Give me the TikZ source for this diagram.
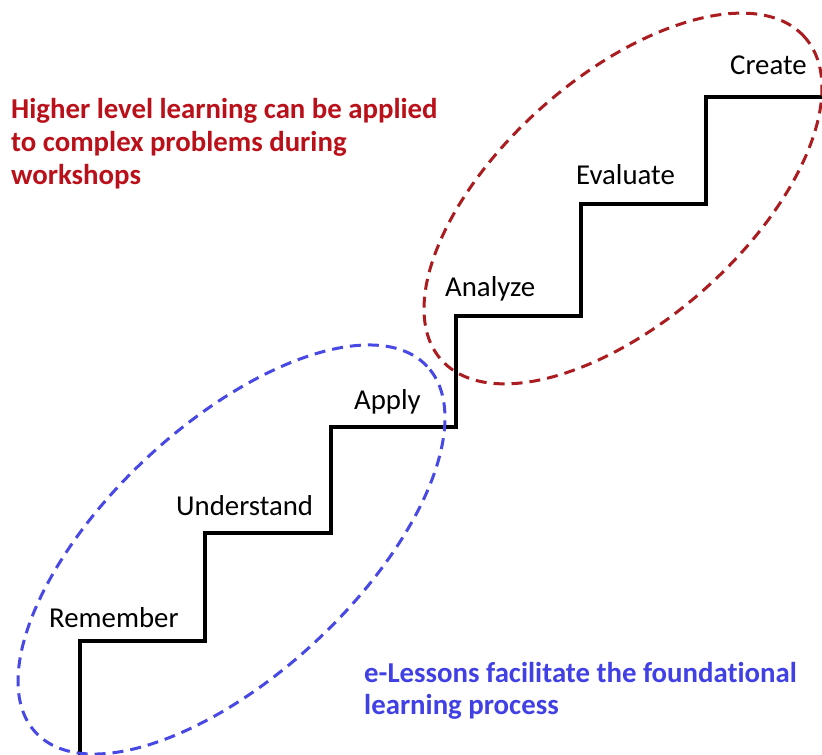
\documentclass[tikz,border=0pt]{standalone}
\usepackage{fontspec}
\setmainfont{Carlito}[Ligatures={NoCommon}]
\definecolor{hired}{RGB}{186,16,26}
\definecolor{ellred}{RGB}{170,28,32}
\definecolor{loblue}{RGB}{64,64,228}
\definecolor{ellblue}{RGB}{72,72,228}
\begin{document}
\begin{tikzpicture}[x=1pt,y=-1pt,
  lbl/.style={anchor=base west,inner sep=0pt,font=\fontsize{28.8}{33}\selectfont},
  note/.style={anchor=base west,inner sep=0pt,font=\fontsize{28.8}{33}\selectfont\bfseries},
  stair/.style={draw=black,line width=3.8pt},
  ring/.style={line width=3pt,dash pattern=on 11pt off 7pt}]
\useasboundingbox (0,0) rectangle (822,755);
% staircase
\coordinate (s0) at (80,757);
\coordinate (s1) at (80,641);
\coordinate (s2) at (205,641);
\coordinate (s3) at (205,533);
\coordinate (s4) at (331,533);
\coordinate (s5) at (331,427);
\coordinate (s6) at (456,427);
\coordinate (s7) at (456,316);
\coordinate (s8) at (581,316);
\coordinate (s9) at (581,204);
\coordinate (s10) at (706,204);
\coordinate (s11) at (706,97);
\coordinate (s12) at (824,97);
\draw[stair,line join=miter] (s0) -- (s1) -- (s2) -- (s3) -- (s4) -- (s5) -- (s6) -- (s7) -- (s8) -- (s9) -- (s10) -- (s11) -- (s12);
% labels
\node[lbl] (remember) at (49,627) {Remember};
\node[lbl] (understand) at (176,515) {Understand};
\node[lbl] (apply) at (354,409) {Apply};
\node[lbl] (analyze) at (445,296) {Analyze};
\node[lbl] (evaluate) at (576,184) {Evaluate};
\node[lbl] (create) at (730,74) {Create};
% ellipses
\begin{scope}[shift={(623,198.5)},rotate=41.6]
\draw[ring,draw=ellred] (0,0) ellipse [x radius=243pt,y radius=122pt];
\end{scope}
\begin{scope}[shift={(231.5,549.5)},rotate=43.1]
\draw[ring,draw=ellblue] (0,0) ellipse [x radius=268pt,y radius=124.7pt];
\end{scope}
% notes
\node[note,text=hired] (r1) at (11,118) {Higher level learning can be applied};
\node[note,text=hired] (r2) at (11,151) {to complex problems during};
\node[note,text=hired] (r3) at (11,184) {workshops};
\node[note,text=loblue] (b1) at (364,682) {e-Lessons facilitate the foundational};
\node[note,text=loblue] (b2) at (364,714) {learning process};
\end{tikzpicture}
\end{document}
